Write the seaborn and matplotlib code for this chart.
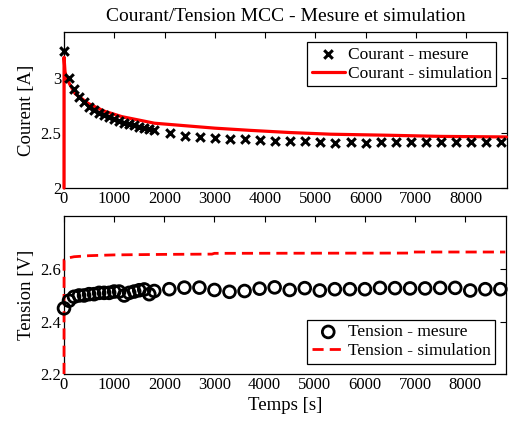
import matplotlib
matplotlib.use("Agg")
import matplotlib.pyplot as plt
import seaborn as sns
import pandas as pd

# ---- data ----
t_mes = [0, 100, 200, 300, 400, 500, 600, 700, 800, 900, 1000, 1100, 1200, 1300,
         1400, 1500, 1600, 1700, 1800, 2100, 2400, 2700, 3000, 3300, 3600, 3900,
         4200, 4500, 4800, 5100, 5400, 5700, 6000, 6300, 6600, 6900, 7200, 7500,
         7800, 8100, 8400, 8700]
i_mes = [3.245, 3.00, 2.90, 2.83, 2.78, 2.74, 2.71, 2.685, 2.665, 2.645, 2.625,
         2.61, 2.595, 2.58, 2.57, 2.56, 2.55, 2.54, 2.53, 2.497, 2.476, 2.467,
         2.457, 2.448, 2.442, 2.436, 2.43, 2.43, 2.432, 2.42, 2.412, 2.42, 2.412,
         2.423, 2.423, 2.423, 2.423, 2.423, 2.423, 2.423, 2.423, 2.416]
u_mes = [2.451, 2.48, 2.495, 2.50, 2.50, 2.505, 2.505, 2.51, 2.51, 2.51, 2.515,
         2.515, 2.50, 2.51, 2.515, 2.52, 2.523, 2.505, 2.517, 2.524, 2.53, 2.53,
         2.521, 2.514, 2.517, 2.526, 2.531, 2.521, 2.528, 2.519, 2.524, 2.524,
         2.524, 2.529, 2.528, 2.527, 2.527, 2.529, 2.529, 2.519, 2.524, 2.524]

t_sim_i = [0, 1, 20, 50, 120, 220, 480, 800, 1150, 1800, 2200, 3000, 3700, 4500,
           5300, 6500, 7500, 8800]
i_sim = [2.0, 3.19, 3.06, 3.00, 2.94, 2.86, 2.77, 2.70, 2.65, 2.59, 2.575, 2.545,
         2.525, 2.505, 2.49, 2.48, 2.47, 2.465]

t_sim_u = [0, 1, 50, 200, 500, 1000, 2000, 2950, 3000, 6900, 6950, 8800]
u_sim = [2.2, 2.636, 2.642, 2.648, 2.652, 2.655, 2.657, 2.658, 2.661, 2.662,
         2.666, 2.666]

x_ticks = [0, 1000, 2000, 3000, 4000, 5000, 6000, 7000, 8000]
i_ticks = [2, 2.5, 3]
u_ticks = [2.2, 2.4, 2.6]

mes = pd.DataFrame({"t": t_mes, "i": i_mes, "u": u_mes})
sim_i = pd.DataFrame({"t": t_sim_i, "i": i_sim})
sim_u = pd.DataFrame({"t": t_sim_u, "u": u_sim})

sns.set_style("white")
plt.rcParams["font.family"] = ["Liberation Serif", "DejaVu Serif"]
plt.rcParams["text.color"] = "black"
plt.rcParams["axes.labelcolor"] = "black"
plt.rcParams["xtick.color"] = "black"
plt.rcParams["ytick.color"] = "black"

fig = plt.figure(figsize=(5.12, 4.25), dpi=100)
ax1 = fig.add_axes([0.125, 0.5576, 0.865, 0.367])
ax2 = fig.add_axes([0.125, 0.12, 0.863, 0.372])

# Top: current
sns.scatterplot(data=mes, x="t", y="i", ax=ax1, marker="x", color="black",
                s=38, linewidth=2.2, label="Courant - mesure", zorder=4,
                clip_on=False)
sns.lineplot(data=sim_i, x="t", y="i", ax=ax1, color="red", linewidth=2.3,
             sort=False, estimator=None, label="Courant - simulation",
             zorder=3, clip_on=False)

# Bottom: tension
sns.scatterplot(data=mes, x="t", y="u", ax=ax2, marker="o", facecolors="none",
                edgecolor="black", s=72, linewidth=2.0, label="Tension - mesure",
                zorder=4, clip_on=False)
sns.lineplot(data=sim_u, x="t", y="u", ax=ax2, color="red", linewidth=2.0,
             linestyle=(0, (4, 2.2)), sort=False, estimator=None,
             label="Tension - simulation", zorder=3, clip_on=False)

for ax, yl, yt, lab in [(ax1, (2, 3.42), i_ticks, "Courent [A]"),
                        (ax2, (2.2, 2.804), u_ticks, "Tension [V]")]:
    ax.set_xlim(0, 8810)
    ax.set_ylim(*yl)
    ax.set_xticks(x_ticks)
    ax.set_yticks(yt)
    ax.set_yticklabels([f"{v:g}" for v in yt])
    ax.tick_params(direction="in", length=4, width=0.8, top=True, right=True,
                   labelsize=12, pad=2, colors="black")
    ax.set_ylabel(lab, fontsize=13.5, labelpad=4, color="black")
    for sp in ax.spines.values():
        sp.set_color("black")
        sp.set_linewidth(0.9)
    leg = ax.legend(loc="upper right" if ax is ax1 else "lower right",
                    fontsize=12.5, frameon=True, fancybox=False,
                    edgecolor="black", framealpha=1, handlelength=1.9,
                    borderpad=0.25, labelspacing=0.15, handletextpad=0.2,
                    borderaxespad=0.6, labelcolor="black")
    leg.get_frame().set_linewidth(0.9)
    leg.set_zorder(5)

ax1.set_xlabel("")
ax2.set_xlabel("Temps [s]", fontsize=13.5, labelpad=3, color="black")
ax1.set_title("Courant/Tension MCC - Mesure et simulation", fontsize=14, pad=8,
              color="black")

fig.savefig("out.png", dpi=100, facecolor="white")
